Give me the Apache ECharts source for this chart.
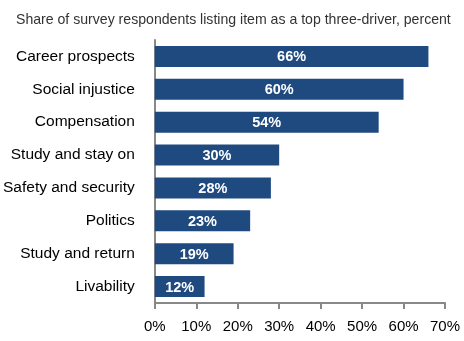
<!DOCTYPE html>
<html lang="en">
<head>
    <meta charset="UTF-8">
    <title>Top three drivers</title>
    <script src="https://cdn.jsdelivr.net/npm/echarts@6/dist/echarts.min.js"></script>
    <style>
        html, body { margin: 0; padding: 0; background: #fff; }
    </style>
</head>
<body>
    <div id="main" style="width: 464px; height: 341px;"></div>
    <script>
        var categories = ['Career prospects', 'Social injustice', 'Compensation', 'Study and stay on',
            'Safety and security', 'Politics', 'Study and return', 'Livability'];
        var shares = [66, 60, 54, 30, 28, 23, 19, 12];
        var xTicks = [0, 10, 20, 30, 40, 50, 60, 70];

        var myChart = echarts.init(document.getElementById('main'));

        var option = {
            animation: false,
            title: {
                text: 'Share of survey respondents listing item as a top three-driver, percent',
                left: 11,
                top: 8,
                textStyle: {
                    fontFamily: 'Liberation Sans, Arial, sans-serif',
                    fontSize: 14.1,
                    fontWeight: 'normal',
                    color: '#333'
                }
            },
            grid: {
                left: 154,
                right: 19,
                top: 40,
                bottom: 38
            },
            xAxis: {
                type: 'value',
                min: xTicks[0],
                max: xTicks[xTicks.length - 1],
                interval: 10,
                splitLine: { show: false },
                axisLine: { show: true, lineStyle: { color: '#888', width: 2 } },
                axisTick: { show: true, length: 6, lineStyle: { color: '#888', width: 2 } },
                axisLabel: {
                    formatter: '{value}%',
                    margin: 16,
                    fontFamily: 'Liberation Sans, Arial, sans-serif',
                    fontSize: 15,
                    color: '#000'
                }
            },
            yAxis: {
                type: 'category',
                inverse: true,
                data: categories,
                axisLine: { show: true, lineStyle: { color: '#888', width: 2 } },
                axisTick: { show: false },
                axisLabel: {
                    margin: 20,
                    fontFamily: 'Liberation Sans, Arial, sans-serif',
                    fontSize: 15.5,
                    color: '#000'
                }
            },
            series: [{
                type: 'bar',
                data: shares,
                barWidth: 21,
                itemStyle: { color: '#1f4a80' },
                label: {
                    show: true,
                    position: 'inside',
                    offset: [0, 1],
                    formatter: '{c}%',
                    fontFamily: 'Liberation Sans, Arial, sans-serif',
                    fontSize: 14.5,
                    fontWeight: 'bold',
                    color: '#fff'
                }
            }]
        };

        myChart.setOption(option);
    </script>
</body>
</html>
